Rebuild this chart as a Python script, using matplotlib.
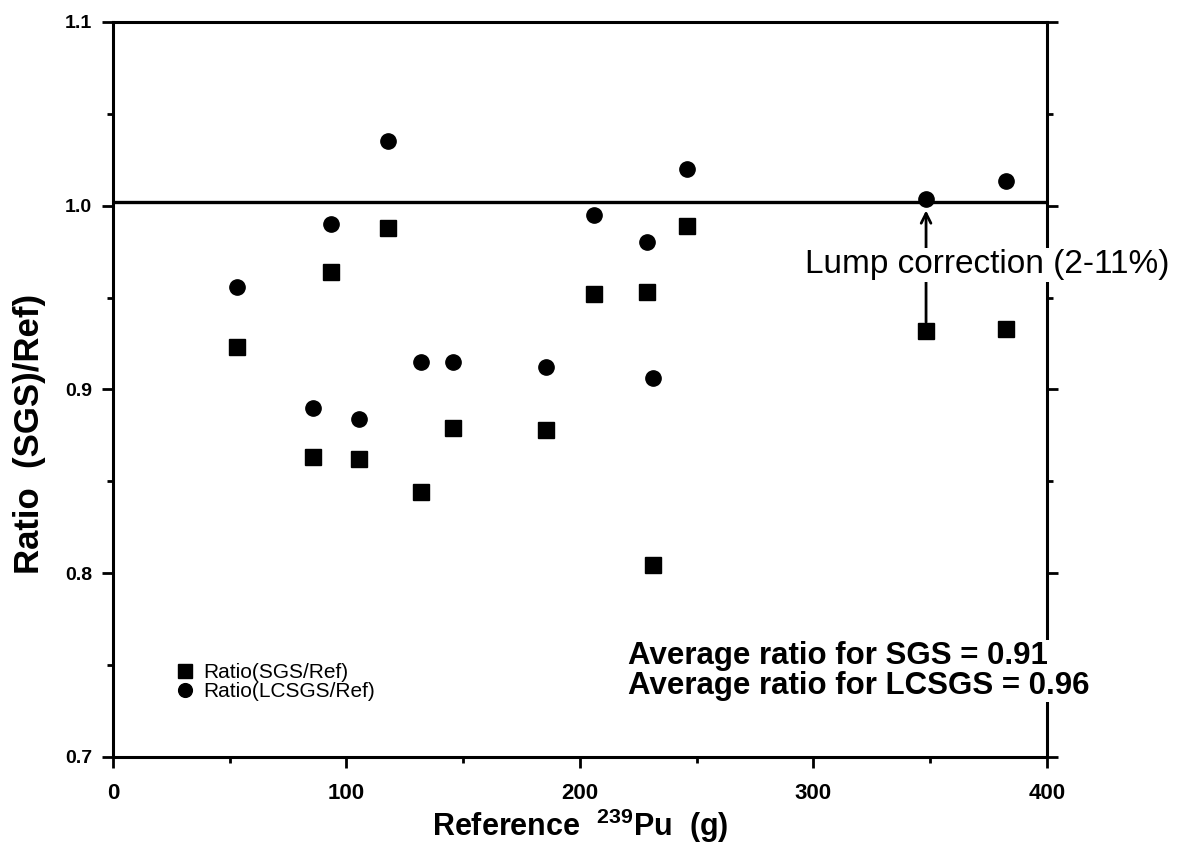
import matplotlib
matplotlib.use("Agg")
from matplotlib import pyplot as plt

plt.rcParams["font.family"] = ["Liberation Sans", "DejaVu Sans"]
plt.rcParams["mathtext.fontset"] = "custom"
plt.rcParams["mathtext.rm"] = "Liberation Sans:bold"
plt.rcParams["mathtext.bf"] = "Liberation Sans:bold"

ref_mass = [53.2, 85.8, 93.5, 105.5, 117.7, 131.9, 145.8, 185.4, 206.2, 228.7, 231.3, 246.0, 348.2, 382.5]
ratio_sgs = [0.923, 0.863, 0.964, 0.862, 0.988, 0.844, 0.879, 0.878, 0.952, 0.953, 0.8045, 0.989, 0.932, 0.933]
ratio_lcsgs = [0.956, 0.890, 0.990, 0.884, 1.035, 0.915, 0.915, 0.912, 0.995, 0.980, 0.906, 1.020, 1.0035, 1.0136]
unity_line = 1.002
avg_sgs = 0.91
avg_lcsgs = 0.96


def main():
    fig = plt.figure(figsize=(11.78, 8.49), dpi=100)
    ax = fig.add_axes([0.0959, 0.1084, 0.7929, 0.8657])

    ax.plot(ref_mass, ratio_sgs, "s", color="black", markersize=11, label="Ratio(SGS/Ref)", zorder=3)
    ax.plot(ref_mass, ratio_lcsgs, "o", color="black", markersize=11, label="Ratio(LCSGS/Ref)", zorder=3)
    ax.axhline(unity_line, color="black", linewidth=2.4, zorder=2)

    # lump correction arrow from SGS to LCSGS point
    i = 12
    ax.annotate("", xy=(ref_mass[i], ratio_lcsgs[i]), xytext=(ref_mass[i], ratio_sgs[i]),
                arrowprops=dict(arrowstyle="->,head_length=0.7,head_width=0.35", color="black",
                                lw=2, shrinkA=6, shrinkB=8), zorder=3)
    ax.text(374.3, 0.9678, "Lump correction (2-11%)", fontsize=24, ha="center", va="center",
            bbox=dict(facecolor="white", edgecolor="none", pad=1), zorder=5)

    ax.text(220.6, 0.7343, "Average ratio for SGS = %.2f\nAverage ratio for LCSGS = %.2f" % (avg_sgs, avg_lcsgs),
            fontsize=22.5, fontweight="bold", ha="left", va="baseline", linespacing=1.0,
            bbox=dict(facecolor="white", edgecolor="none", pad=1), zorder=5)

    ax.set_xlim(0, 400)
    ax.set_ylim(0.7, 1.1)
    ax.set_xticks([0, 100, 200, 300, 400])
    ax.set_xticks([50, 150, 250, 350], minor=True)
    ax.set_yticks([0.7, 0.8, 0.9, 1.0, 1.1])
    ax.set_yticks([0.75, 0.85, 0.95, 1.05], minor=True)
    ax.set_yticklabels(["0.7", "0.8", "0.9", "1.0", "1.1"])

    for s in ax.spines.values():
        s.set_linewidth(2.2)
    ax.tick_params(axis="both", which="major", direction="out", length=8, width=2)
    ax.tick_params(axis="both", which="minor", direction="out", length=4, width=2)
    ax.tick_params(axis="y", which="both", right=True)
    ax.tick_params(axis="x", labelsize=16, pad=11)
    ax.tick_params(axis="y", labelsize=14, pad=7)
    for lab in ax.get_xticklabels() + ax.get_yticklabels():
        lab.set_fontweight("bold")

    ax.set_xlabel(r"Reference  $^{239}$Pu  (g)", fontsize=22, fontweight="bold", labelpad=2)
    ax.set_ylabel("Ratio  (SGS)/Ref)", fontsize=25, fontweight="bold", labelpad=10)
    ax.yaxis.set_label_coords(-0.072, 0.44)

    ax.legend(loc="upper left", bbox_to_anchor=(0.057, 0.142), frameon=False, fontsize=15,
              labelspacing=0.0, handlelength=0.8, handletextpad=0.5, borderpad=0, markerscale=0.9)

    fig.savefig("out.png", dpi=100)


main()
